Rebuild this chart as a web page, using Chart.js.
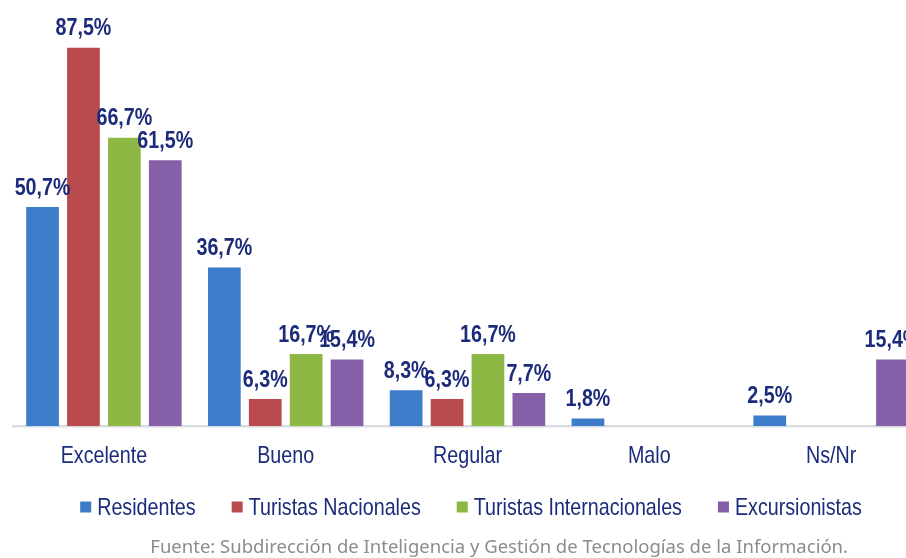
<!DOCTYPE html>
<html>
<head>
<meta charset="utf-8">
<script src="https://cdn.jsdelivr.net/npm/chart.js@4.4.0/dist/chart.umd.min.js"></script>
<style>
  html, body { margin: 0; padding: 0; background: #fff; overflow: hidden; width: 906px; height: 558px; }
  #wrap { position: absolute; left: 0; top: 0; width: 924px; height: 540px; }
  #fuente { position: absolute; left: 0; width: 848px; top: 533px; text-align: right;
    font-family: 'Noto Sans', 'Open Sans', sans-serif; font-size: 18.5px; color: #8c8c8c; }
</style>
</head>
<body>
<div id="wrap"><canvas id="grafico"></canvas></div>
<div id="fuente">Fuente: Subdirección de Inteligencia y Gestión de Tecnologías de la Información.</div>
<script>
var categorias = ['Excelente', 'Bueno', 'Regular', 'Malo', 'Ns/Nr'];
var residentes = [50.7, 36.7, 8.3, 1.8, 2.5];
var nacionales = [87.5, 6.3, 6.3, 0, 0];
var internacionales = [66.7, 16.7, 16.7, 0, 0];
var excursionistas = [61.5, 15.4, 7.7, 0, 15.4];
var series = ['Residentes', 'Turistas Nacionales', 'Turistas Internacionales', 'Excursionistas'];
var colores = ['#3d7cc9', '#b94b4f', '#8db843', '#8560a8'];

var fuente = "'Liberation Sans', Arial, sans-serif";
var azul = '#1c2b7a';
var angosto = 0.82; // simula Arial Narrow

// texto estrechado horizontalmente
var textoAngosto = function(ctx, txt, x, y, align) {
	ctx.save();
	ctx.translate(x, y);
	ctx.scale(angosto, 1);
	ctx.textAlign = align;
	ctx.fillText(txt, 0, 0);
	ctx.restore();
};

var textos = {
	id: 'textos',
	afterDatasetsDraw: function(chart) {
		var ctx = chart.ctx;
		var area = chart.chartArea;
		ctx.save();
		ctx.fillStyle = azul;

		// etiquetas de valor
		ctx.font = 'bold 24px ' + fuente;
		ctx.textBaseline = 'bottom';
		chart.data.datasets.forEach(function(ds, i) {
			var meta = chart.getDatasetMeta(i);
			meta.data.forEach(function(bar, j) {
				var v = ds.data[j];
				if (!v) return;
				textoAngosto(ctx, v.toFixed(1).replace('.', ',') + '%', bar.x, bar.y - 7, 'center');
			});
		});

		// etiquetas del eje x
		ctx.font = '24px ' + fuente;
		ctx.textBaseline = 'middle';
		var xs = chart.scales.x;
		categorias.forEach(function(c, i) {
			textoAngosto(ctx, c, xs.getPixelForTick(i), area.bottom + 30, 'center');
		});

		// leyenda
		var caja = 11, hueco = 6, sep = 36;
		var anchos = series.map(function(s) { return ctx.measureText(s).width * angosto; });
		var total = anchos.reduce(function(a, b) { return a + b; }, 0) + series.length * (caja + hueco) + (series.length - 1) * sep;
		var x = 471 - total / 2;
		var y = 508;
		series.forEach(function(s, i) {
			ctx.fillStyle = colores[i];
			ctx.fillRect(x, y - caja / 2 - 1, caja, caja);
			ctx.fillStyle = azul;
			textoAngosto(ctx, s, x + caja + hueco, y, 'left');
			x += caja + hueco + anchos[i] + sep;
		});
		ctx.restore();
	}
};

var datos = [residentes, nacionales, internacionales, excursionistas];
var config = {
	type: 'bar',
	data: {
		labels: categorias,
		datasets: series.map(function(nombre, i) {
			return {
				label: nombre,
				data: datos[i],
				backgroundColor: colores[i],
				borderWidth: 0,
				categoryPercentage: 0.9,
				barPercentage: 0.8
			};
		})
	},
	options: {
		responsive: true,
		maintainAspectRatio: false,
		animation: false,
		layout: { padding: { top: 11, left: 13, right: 2, bottom: 53 } },
		scales: {
			x: {
				grid: { display: false },
				border: { color: '#d9dde2', width: 2.5 },
				ticks: { color: 'rgba(0,0,0,0)', font: { family: fuente, size: 24 }, padding: 12 }
			},
			y: { display: false, min: 0, max: 96 }
		},
		plugins: {
			legend: { display: false },
			tooltip: { enabled: false }
		}
	},
	plugins: [textos]
};

var ctx = document.getElementById('grafico').getContext('2d');
window.grafico = new Chart(ctx, config);
</script>
</body>
</html>
